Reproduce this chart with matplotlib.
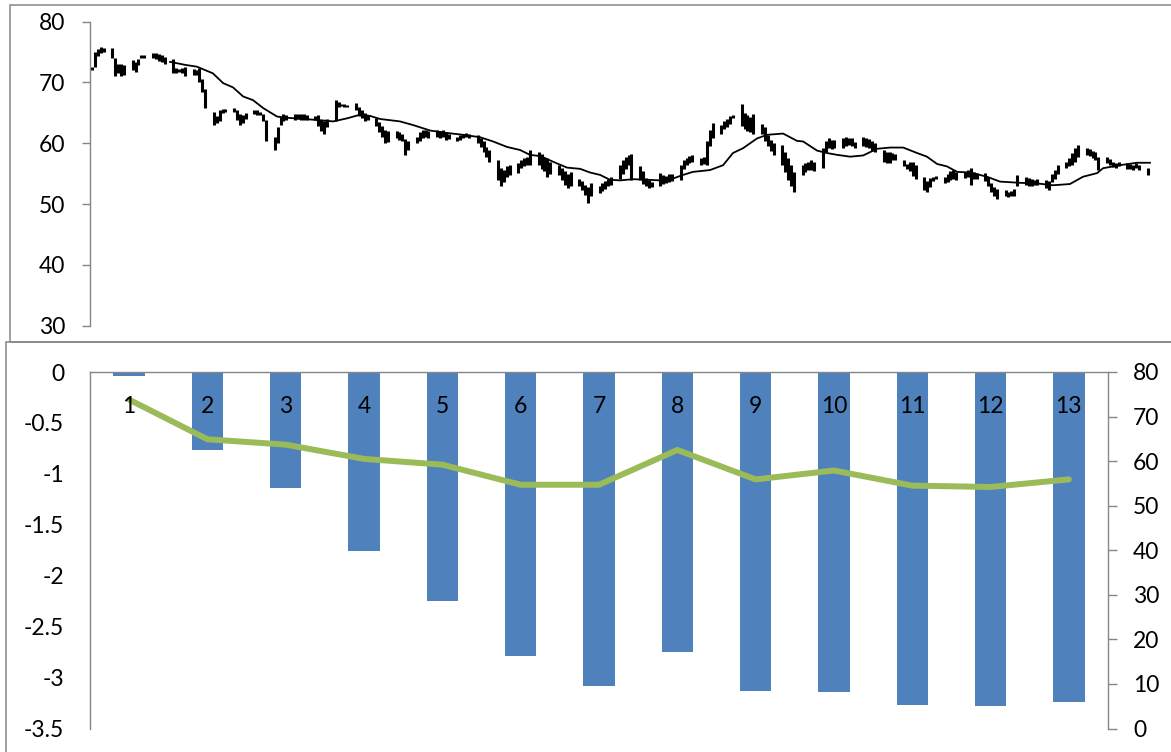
import numpy as np
import pandas as pd
import matplotlib
matplotlib.use("Agg")
import matplotlib.pyplot as plt
from matplotlib.patches import Rectangle
from matplotlib.ticker import FuncFormatter

plt.rcParams['font.family'] = ['Lato', 'DejaVu Sans']

# ---- daily price ranges, one row per trading week (Mon..Fri) ----
highs = [
    72.5, 75.0, 75.5, 75.8, 75.7,
    75.6, 74.0, 73.1, 73.0, 72.9,
    73.7, 73.4, 73.9, 74.5, 74.6,
    74.8, 74.9, 74.7, 74.5, 74.2,
    73.8, 72.4, 72.3, 72.4, 72.6,
    72.2, 72.1, 72.4, 70.5, 69.0,
    65.2, 64.5, 65.4, 65.6, 65.7,
    65.8, 65.5, 64.8, 64.6, 65.0,
    65.5, 65.4, 65.2, 64.9, 63.8,
    61.1, 62.7, 64.4, 64.9, 64.6,
    64.8, 64.9, 64.8, 64.9, 64.7,
    64.5, 64.6, 63.8, 63.6, 64.0,
    67.1, 66.8, 66.5, 66.4, 66.3,
    66.6, 66.0, 65.5, 65.0, 64.6,
    64.1, 63.5, 62.9, 62.2, 62.1,
    62.1, 61.9, 61.6, 60.7, 60.3,
    61.0, 61.8, 62.2, 62.2, 62.0,
    62.2, 62.0, 62.2, 61.8, 61.6,
    61.0, 61.4, 61.6, 61.7, 61.5,
    61.4, 60.9, 60.3, 59.4, 58.9,
    57.3, 55.9, 55.6, 56.2, 56.4,
    56.7, 57.3, 57.6, 57.8, 58.9,
    58.6, 58.2, 57.8, 57.5, 57.0,
    56.4, 55.9, 55.5, 55.0, 55.2,
    54.2, 53.8, 53.2, 52.8, 53.5,
    53.0, 53.4, 53.8, 54.2, 54.5,
    56.5, 57.2, 57.8, 58.0, 58.2,
    56.2, 55.5, 54.3, 54.0, 53.6,
    55.1, 54.8, 54.6, 55.0, 54.9,
    56.5, 57.2, 57.6, 57.9, 58.1,
    57.6, 57.8, 60.3, 62.2, 63.3,
    63.0, 63.6, 64.0, 64.5, 64.7,
    66.4, 65.0, 64.6, 64.4, 64.8,
    63.1, 62.6, 61.4, 60.6, 60.0,
    59.7, 58.6, 57.5, 56.4, 55.3,
    56.4, 56.8, 57.0, 57.3, 57.0,
    59.3, 60.4, 60.8, 60.6, 60.5,
    60.8, 61.1, 60.9, 60.8, 60.2,
    61.1, 60.8, 60.7, 60.4, 60.0,
    58.9, 58.6, 58.5, 58.4, 58.2,
    57.3, 56.6, 56.9, 57.0, 56.5,
    54.5, 53.8, 54.3, 54.5, 54.6,
    54.5, 55.0, 55.4, 55.6, 55.3,
    55.2, 55.6, 55.9, 55.3, 55.1,
    55.1, 54.4, 53.5, 52.8, 52.5,
    52.3, 52.0, 52.2, 52.5, 54.8,
    54.5, 54.3, 54.2, 54.0, 54.1,
    54.0, 53.8, 55.0, 55.6, 56.4,
    57.0, 57.6, 58.4, 59.3, 59.7,
    59.3, 59.0, 58.8, 58.6, 57.8,
    57.8, 57.4, 57.0, 56.8, 57.0,
    56.7, 56.6, 56.4, 56.7, 56.5,
    55.9,
]
lows = [
    72.0, 72.6, 74.3, 74.9, 75.0,
    74.1, 71.0, 71.5, 71.1, 71.3,
    72.0, 71.7, 72.9, 74.0, 74.1,
    74.0, 73.8, 73.6, 73.4, 73.1,
    71.6, 71.5, 71.7, 71.5, 71.0,
    71.3, 71.2, 70.0, 68.5, 65.8,
    63.0, 63.3, 63.6, 65.0, 65.1,
    65.1, 63.8, 63.0, 63.4, 64.0,
    64.9, 64.7, 64.6, 63.6, 60.3,
    58.9, 60.0, 63.0, 63.6, 63.8,
    63.9, 64.0, 63.9, 63.8, 63.9,
    63.8, 62.9, 62.0, 61.6, 62.6,
    63.6, 66.0, 66.1, 66.0, 66.0,
    65.4, 64.5, 64.2, 63.6, 63.8,
    62.8, 61.9, 61.0, 60.0, 60.2,
    60.8, 60.5, 60.3, 58.1, 58.9,
    60.0, 60.4, 60.8, 61.0, 60.9,
    61.0, 60.8, 61.1, 60.6, 60.7,
    60.3, 60.5, 60.9, 61.0, 60.8,
    60.0, 59.4, 58.6, 57.8, 57.0,
    54.0, 52.9, 53.7, 54.5, 54.8,
    55.1, 55.9, 56.2, 56.4, 56.4,
    56.5, 55.8, 55.5, 54.5, 55.0,
    54.8, 54.0, 53.2, 52.6, 53.0,
    53.0, 52.3, 51.5, 50.1, 51.3,
    51.8, 52.1, 52.5, 52.9, 53.2,
    54.2, 55.0, 55.8, 56.5, 54.0,
    54.0, 53.3, 52.9, 52.6, 52.8,
    53.0, 53.3, 53.4, 53.6, 53.8,
    54.0, 55.8, 56.4, 56.7, 57.0,
    56.4, 56.6, 56.4, 59.6, 60.8,
    61.6, 62.3, 62.7, 63.2, 64.2,
    62.8, 62.3, 62.0, 61.9, 61.6,
    61.5, 60.3, 59.6, 58.7, 58.1,
    56.4, 55.2, 54.0, 53.0, 52.0,
    54.8, 55.2, 55.6, 55.6, 55.5,
    55.9, 58.6, 59.2, 59.0, 59.3,
    59.3, 59.6, 59.8, 59.6, 59.2,
    59.5, 59.4, 59.2, 58.8, 58.6,
    57.0, 56.7, 56.8, 57.2, 57.3,
    56.2, 55.7, 55.4, 54.6, 54.2,
    52.3, 52.0, 52.8, 53.8, 54.1,
    53.4, 53.7, 54.0, 54.2, 54.0,
    54.3, 54.5, 53.1, 54.1, 54.2,
    53.8, 53.0, 52.0, 51.3, 50.9,
    51.4, 51.2, 51.3, 51.4, 52.9,
    53.2, 53.0, 52.9, 53.1, 53.2,
    52.6, 52.3, 53.7, 54.2, 55.0,
    55.9, 56.3, 56.5, 57.0, 57.8,
    58.1, 57.9, 57.6, 57.3, 55.6,
    56.8, 56.5, 56.1, 55.9, 56.2,
    55.8, 55.7, 55.6, 55.9, 55.6,
    54.8,
]

# 20-day moving average (calendar days since first session, value)
ma_day = [26.9, 32.1, 36.2, 41.7, 45.2, 48.6, 52.1, 55.5, 59.0, 63.8, 67.2,
          78.6, 83.1, 87.9, 92.4, 95.9, 99.3, 106.2, 110.7, 116.6, 122.4,
          127.9, 133.8, 138.3, 143.1, 147.6, 151.0, 154.5, 160.3, 163.8,
          168.3, 171.7, 175.2, 178.6, 182.1, 186.6, 191.4, 195.9, 200.3,
          203.8, 207.2, 213.1, 217.6, 221.0, 224.5, 229.3, 232.8, 238.3,
          243.1, 245.2, 250.0, 253.4, 256.9, 261.4, 265.9, 270.7, 275.2,
          279.7, 284.5, 287.9, 291.4, 294.8, 298.3, 302.8, 308.6, 313.1,
          320.0, 325.9, 331.4, 337.2, 341.7, 346.6, 348.6, 354.5, 360.3,
          364.8]
ma_val = [73.4, 72.9, 72.6, 71.5, 69.9, 69.2, 67.7, 67.1, 65.8, 64.4, 64.2,
          63.8, 63.6, 64.1, 64.7, 64.5, 64.0, 63.6, 63.0, 62.1, 61.7,
          61.4, 61.0, 60.3, 59.4, 58.9, 58.1, 57.9, 56.7, 56.0,
          55.8, 55.2, 54.8, 54.0, 53.9, 54.1, 54.0, 53.9, 54.2,
          54.8, 55.3, 55.6, 56.4, 58.4, 59.2, 60.8, 61.4, 61.6,
          60.4, 60.3, 58.8, 58.4, 58.1, 57.8, 58.0, 59.1, 59.3,
          59.3, 58.4, 57.8, 56.6, 56.2, 55.3, 55.2, 54.5, 53.7,
          53.5, 53.4, 53.1, 53.3, 54.5, 55.1, 55.9, 56.4, 56.8,
          56.8]

# ---- monthly summary ----
months = [str(i) for i in range(1, 14)]
change = [-0.04, -0.77, -1.14, -1.76, -2.25, -2.79, -3.08, -2.75, -3.13,
          -3.14, -3.27, -3.28, -3.24]
month_price = [73.8, 64.9, 63.7, 60.5, 59.2, 54.7, 54.7, 62.5, 55.9, 57.9,
               54.5, 54.2, 55.9]

GRAY = '#868686'
BLUE = '#4F81BD'
GREEN = '#9BBB59'
FS = 16.5
W, H = 1171, 752

fig = plt.figure(figsize=(W / 100, H / 100), dpi=100)

# panel frames
fig.add_artist(Rectangle((10 / W, 1 - 341.7 / H), 1.2, (341.7 - 4.7) / H,
                         transform=fig.transFigure, fill=False,
                         edgecolor=GRAY, lw=1.1))
fig.add_artist(Rectangle((5.7 / W, -0.2), 1.2, 0.2 + 1 - 342 / H,
                         transform=fig.transFigure, fill=False,
                         edgecolor=GRAY, lw=1.1))

# ---- price chart ----
sessions = pd.bdate_range('2010-01-04', periods=len(highs))
day = (sessions - sessions[0]).days.values

ax1 = fig.add_axes([90 / W, 1 - 325.7 / H, (1152 - 90) / W, (325.7 - 21.7) / H])
ax1.vlines(day, lows, highs, color='black', lw=2.2)
ax1.plot(ma_day, ma_val, color='black', lw=1.3)
ax1.set_xlim(-0.7, 365.5)
ax1.set_ylim(30, 80)
ax1.set_yticks(np.arange(30, 81, 10))
ax1.set_xticks([])
for s in ['top', 'right', 'bottom']:
    ax1.spines[s].set_visible(False)
ax1.spines['left'].set_color(GRAY)
ax1.spines['left'].set_linewidth(1.0)
ax1.tick_params(axis='y', direction='out', length=5.8, width=1.0,
                color=GRAY, pad=12, labelsize=FS)
ax1.patch.set_alpha(0)

# ---- monthly bars and line ----
ax2 = fig.add_axes([90 / W, 1 - 728.5 / H, 1018 / W, (728.5 - 372) / H])
x = np.arange(len(months))
ax2.bar(x, change, width=0.4, color=BLUE, zorder=2)
ax2.set_xlim(-0.5, len(months) - 0.5)
ax2.set_ylim(-3.5, 0)
ax2.set_yticks(np.arange(-3.5, 0.01, 0.5))
ax2.yaxis.set_major_formatter(FuncFormatter(lambda v, p: f'{v:g}'))
ax2.set_xticks([])
for s in ['right', 'bottom']:
    ax2.spines[s].set_visible(False)
for s in ['left', 'top']:
    ax2.spines[s].set_color(GRAY)
    ax2.spines[s].set_linewidth(1.0)
ax2.tick_params(axis='y', length=0, pad=18.7, labelsize=FS)
ax2.patch.set_alpha(0)

ax3 = ax2.twinx()
ax3.plot(x, month_price, color=GREEN, lw=4.3, solid_joinstyle='round',
         solid_capstyle='round', zorder=3)
ax3.set_ylim(0, 80)
ax3.set_yticks(np.arange(0, 81, 10))
for s in ['left', 'top', 'bottom']:
    ax3.spines[s].set_visible(False)
ax3.spines['right'].set_color(GRAY)
ax3.spines['right'].set_linewidth(1.0)
ax3.tick_params(axis='y', direction='out', length=6.5, width=1.0,
                color=GRAY, pad=11.5, labelsize=FS)

for i, lbl in enumerate(months):
    ax3.annotate(lbl, xy=(i, 80), xycoords='data', xytext=(0, -24.5),
                 textcoords='offset points', ha='center', va='center',
                 fontsize=FS, zorder=5)

fig.savefig('out.png', dpi=100)
